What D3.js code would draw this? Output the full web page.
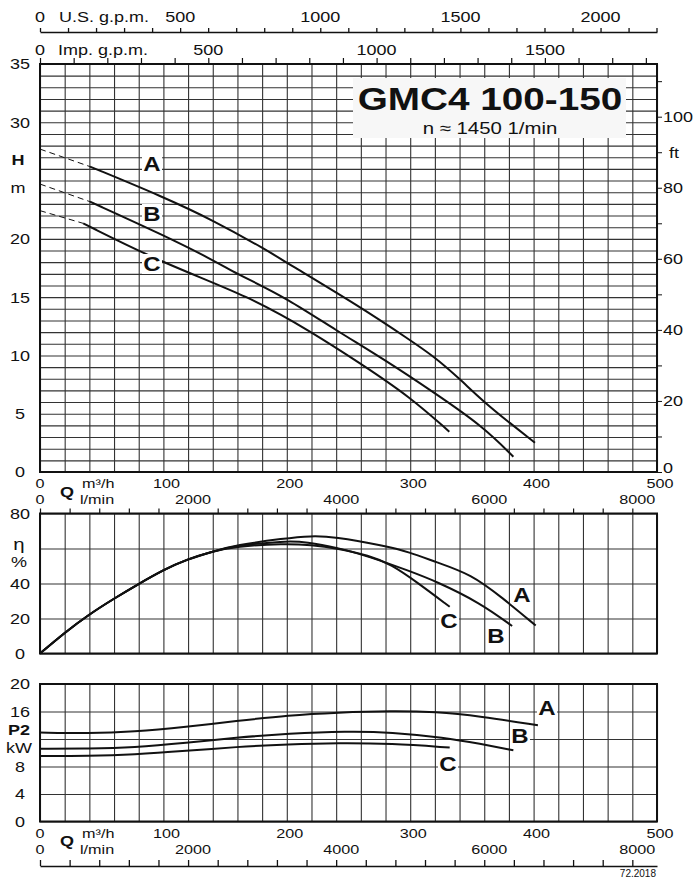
<!DOCTYPE html>
<html><head><meta charset="utf-8">
<script src="https://cdn.jsdelivr.net/npm/d3@7/dist/d3.min.js"></script>
<style>
body{margin:0;background:#fff;}
text{font-family:"Liberation Sans",Arial,Helvetica,sans-serif;fill:#111;}
</style></head><body>
<svg id="c" width="696" height="881"></svg>
<script>
// ---------- DATA ----------
// Q in m3/h
const headDashA = [[0,27.7],[40.5,26.2]];
const headDashB = [[0,24.7],[40.5,23.19]];
const headDashC = [[0,22.42],[35,21.33]];
const headA = [[40.5,26.2],[99.9,23.6],[140.2,21.6],[183.7,19.04],[199.9,17.95],[259.3,14.18],[299.8,11.32],[319.5,9.89],[339.5,8.04],[359.5,6.03],[379.5,4.31],[401.1,2.51]];
const headB = [[40.5,23.19],[99.9,20.33],[140.2,18.19],[156.4,17.18],[170.2,16.47],[199.9,14.9],[239.6,12.18],[279.6,9.61],[319.5,6.8],[359.2,3.89],[383.6,1.31]];
const headC = [[35,21.33],[99.9,17.9],[170.2,15.04],[219.6,12.04],[259.6,9.32],[299.6,6.46],[331.7,3.46]];

const effA = [[0,0],[19.8,11.8],[39.6,22.3],[61.2,31.9],[79.3,39.5],[100.9,48.1],[118.9,53.6],[140.5,58.4],[158.5,61.9],[198,65.8],[219.7,67.2],[237.8,66.8],[279.2,61.5],[299,58.0],[320.6,52.3],[349.5,45.3],[374.6,31.9],[401.7,16.0]];
const effB = [[0,0],[19.8,11.8],[39.6,22.3],[61.2,31.9],[79.3,39.5],[100.9,48.1],[118.9,53.8],[140.5,58.5],[158.5,61.6],[198,64.3],[216,63.8],[241,60.5],[266.6,55.5],[299,47.2],[320.6,41.4],[356.6,29.0],[382.6,15.7]];
const effC = [[0,0],[19.8,11.8],[39.6,22.3],[61.2,31.9],[79.3,39.5],[100.9,48.1],[118.9,53.8],[140.5,58.4],[158.5,61.2],[198,62.8],[219.7,62.0],[241,60.0],[266.6,56.0],[284.6,51.0],[306,40.5],[332,26.7]];

const powA = [[0,12.94],[39.6,12.8],[75.6,13.04],[118.9,13.77],[158.5,14.6],[201.7,15.47],[241.4,15.86],[284.6,16.1],[320.6,15.96],[356.6,15.3],[403.5,14.0]];
const powB = [[0,10.6],[39.6,10.6],[75.6,10.75],[118.9,11.43],[158.5,12.2],[201.7,12.8],[248.6,13.14],[284.6,13.0],[327.8,12.2],[356.6,11.3],[383.6,10.36]];
const powC = [[0,9.54],[39.6,9.54],[75.6,9.73],[118.9,10.27],[158.5,10.85],[201.7,11.24],[241.4,11.43],[284.6,11.34],[332,10.75]];

const qTicks = [0,100,200,300,400,500];
const lminTicks = [0,2000,4000,6000,8000];
const usTicks = [0,500,1000,1500,2000];
const impTicks = [0,500,1000,1500];
const hTicks = [0,5,10,15,20,30,35];
const ftTicks = [0,20,40,60,80,100];
const effTicks = [0,20,40,80];
const powTicks = [0,4,8,16,20];
const title = "GMC4 100-150";
const subtitle = "n \u2248 1450 1/min";

// ---------- LAYOUT ----------
const svg = d3.select("#c");
const L = 40, R = 657;
const x = d3.scaleLinear([0,500],[L,R]);
const xUS = d3.scaleLinear([0,500/0.2271247],[L,R]);
const xImp = d3.scaleLinear([0,500/0.2727655],[L,R]);
const xLmin = d3.scaleLinear([0,500/0.06],[L,R]);
const yH = d3.scaleLinear([0,35],[472,64]);
const yFt = d3.scaleLinear([0,35/0.3048],[472,64]);
const yE = d3.scaleLinear([0,80],[653.5,513.5]);
const yP = d3.scaleLinear([0,20],[821.5,684]);

const SX = 1.2;
function T(x0,y0,s,o={}){
  const size=o.size||15;
  return svg.append("text")
    .attr("transform",`translate(${x0},${y0+0.36*size}) scale(${o.sx||SX},1)`)
    .attr("text-anchor",o.anchor||"middle")
    .style("font-size",size+"px")
    .style("font-weight",o.weight||"normal")
    .text(s);
}

function grid(y, xStep, yStep){
  const g = svg.append("g");
  const [y0,y1] = y.range();
  const [d0,d1] = y.domain();
  g.append("g").attr("transform",`translate(0,${y0})`)
    .call(d3.axisBottom(x).tickValues(d3.range(0,501,xStep)).tickSize(-(y0-y1)).tickFormat(""))
    .call(s=>s.select(".domain").remove())
    .selectAll("line").attr("stroke","#333").attr("stroke-width",1.1);
  g.append("g").attr("transform",`translate(${L},0)`)
    .call(d3.axisRight(y).tickValues(d3.range(d0,d1+0.001,yStep)).tickSize(R-L).tickFormat(""))
    .call(s=>s.select(".domain").remove())
    .selectAll("line").attr("stroke","#333").attr("stroke-width",1.1);
  g.append("rect").attr("x",L).attr("y",y1).attr("width",R-L).attr("height",y0-y1)
    .attr("fill","none").attr("stroke","#111").attr("stroke-width",2);
}

const line = (y)=> d3.line().x(d=>x(d[0])).y(d=>y(d[1])).curve(d3.curveBasis);
function curve(data,y,dash){
  svg.append("path").datum(data).attr("d",line(y)).attr("fill","none")
    .attr("stroke","#111").attr("stroke-width",dash?1:2)
    .attr("stroke-dasharray",dash?"6,4":null);
}
function lab(s,cx,cy){
  svg.append("rect").attr("x",cx-10).attr("y",cy-10).attr("width",20).attr("height",20).attr("fill","#fff");
  T(cx,cy,s,{size:20,weight:"bold"});
}

// ---------- TOP CHART ----------
grid(yH, 20, 1);
[headDashA,headDashB,headDashC].forEach(d=>curve(d,yH,true));
[headA,headB,headC].forEach(d=>curve(d,yH,false));
lab("A",152,164); lab("B",152,214); lab("C",152,264);

hTicks.forEach(v=>T(20,yH(v),String(v)));
T(18,160,"H",{weight:"bold"});
T(18,188,"m");

// right ft axis
svg.append("g").attr("transform",`translate(${R},0)`)
  .call(d3.axisRight(yFt).tickValues(d3.range(0,111,10)).tickSize(5).tickFormat(""))
  .call(s=>s.select(".domain").remove())
  .selectAll("line").attr("stroke","#111");
ftTicks.forEach(v=>T(663,yFt(v)-(v?0:4),String(v),{anchor:"start"}));
T(669,yFt(90),"ft",{anchor:"start"});

// title box
svg.append("rect").attr("x",353).attr("y",78).attr("width",273).attr("height",60).attr("fill","#f7f7f7");
svg.append("text").attr("transform","translate(490,110) scale(1.21,1)").attr("text-anchor","middle")
  .style("font-size","32px").style("font-weight","bold").text(title);
svg.append("text").attr("transform","translate(490,134) scale(1.2,1)").attr("text-anchor","middle")
  .style("font-size","17px").text(subtitle);

// US gpm axis
svg.append("g").attr("transform","translate(0,32)")
  .call(d3.axisTop(xUS).tickValues(d3.range(0,2101,100)).tickSize(4).tickSizeOuter(0).tickFormat(""))
  .call(s=>s.selectAll("line,path").attr("stroke","#111").attr("stroke-width",1.3));
svg.append("line").attr("x1",R).attr("x2",R).attr("y1",28).attr("y2",32).attr("stroke","#111").attr("stroke-width",1.3);
usTicks.forEach(v=>T(xUS(v),17,String(v)));
T(59,17,"U.S. g.p.m.",{anchor:"start"});

// Imp gpm axis (on top border)
svg.append("g").attr("transform","translate(0,64)")
  .call(d3.axisTop(xImp).tickValues(d3.range(0,1801,100)).tickSize(6).tickSizeOuter(0).tickFormat(""))
  .call(s=>s.select(".domain").remove())
  .selectAll("line").attr("stroke","#111").attr("stroke-width",1.2);
impTicks.forEach(v=>T(xImp(v),50,String(v)));
T(58,50,"Imp. g.p.m.",{anchor:"start"});

// labels below a chart
function qLabels(y1,y2){
  qTicks.forEach(v=>T(x(v)+(v?3:0),y1,String(v),{size:13.5}));
  lminTicks.forEach(v=>T(xLmin(v)+(v?5:0),y2,String(v),{size:13.5}));
  T(82,y1,"m\u00b3/h",{anchor:"start",size:13.5});
  T(80,y2,"l/min",{anchor:"start",size:13.5});
  T(67,(y1+y2)/2,"Q",{weight:"bold"});
}
qLabels(483.5,499);

// ---------- MIDDLE CHART ----------
grid(yE, 20, 20);
svg.append("g").attr("transform",`translate(0,${yE(80)})`)
  .call(d3.axisTop(xLmin).tickValues(d3.range(0,8001,400)).tickSize(5).tickFormat(""))
  .call(s=>s.select(".domain").remove())
  .selectAll("line").attr("stroke","#111").attr("stroke-width",1.2);
[effA,effB,effC].forEach(d=>curve(d,yE,false));
effTicks.forEach(v=>T(20,yE(v),String(v)));
T(19,544,"\u03b7",{size:17});
T(19,562,"%");
lab("A",522,595); lab("B",496,636); lab("C",449,621);

// ---------- BOTTOM CHART ----------
grid(yP, 20, 4);
[powA,powB,powC].forEach(d=>curve(d,yP,false));
powTicks.forEach(v=>T(20,yP(v),String(v)));
T(19,730,"P2",{weight:"bold"});
T(19,748,"kW");
lab("A",547,708); lab("B",520,736); lab("C",448,764);

qLabels(833,849);
svg.append("g").attr("transform","translate(0,866)")
  .call(d3.axisTop(xLmin).tickValues(d3.range(0,8001,400)).tickSize(6).tickSizeOuter(0).tickFormat(""))
  .call(s=>s.selectAll("line,path").attr("stroke","#111").attr("stroke-width",1.3));
svg.append("text").attr("x",656).attr("y",877).attr("text-anchor","end").style("font-size","10px").text("72.2018");
</script></body></html>
